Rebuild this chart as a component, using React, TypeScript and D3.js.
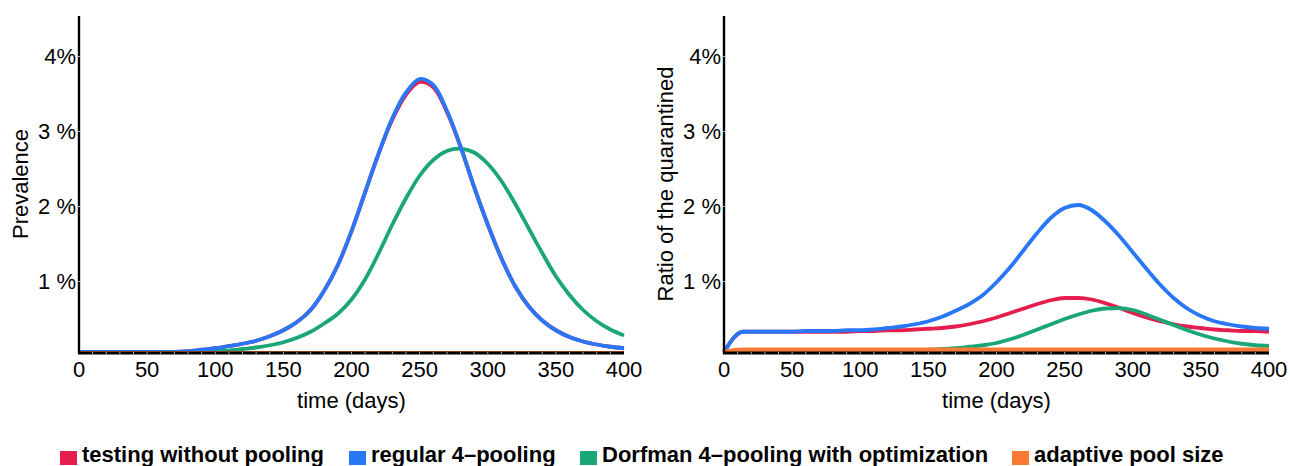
import React from 'react';
import * as d3 from 'd3';

// days on the x axis
const leftDays = d3.range(0, 401, 10);
const rightDays = [0, 14, ...d3.range(20, 401, 10)];

// prevalence (%)
const prevNoPooling = [
  0.02, 0.02, 0.02, 0.03, 0.03, 0.04, 0.05, 0.06, 0.07, 0.09,
  0.11, 0.14, 0.17, 0.21, 0.27, 0.35, 0.46, 0.62, 0.88, 1.22,
  1.67, 2.19, 2.71, 3.16, 3.49, 3.66, 3.59, 3.26, 2.8, 2.26,
  1.76, 1.31, 0.94, 0.67, 0.48, 0.35, 0.26, 0.2, 0.16, 0.13,
  0.11,
];
const prevRegular = [
  0.02, 0.02, 0.02, 0.03, 0.03, 0.04, 0.05, 0.06, 0.07, 0.09,
  0.11, 0.14, 0.17, 0.21, 0.27, 0.35, 0.46, 0.62, 0.88, 1.22,
  1.67, 2.19, 2.71, 3.18, 3.52, 3.7, 3.62, 3.28, 2.8, 2.26,
  1.76, 1.31, 0.94, 0.67, 0.48, 0.35, 0.26, 0.2, 0.16, 0.13,
  0.11,
];
const prevDorfman = [
  0.01, 0.01, 0.01, 0.02, 0.02, 0.03, 0.03, 0.04, 0.05, 0.06,
  0.07, 0.08, 0.1, 0.12, 0.15, 0.19, 0.25, 0.33, 0.44, 0.57,
  0.76, 1.03, 1.38, 1.76, 2.11, 2.41, 2.62, 2.74, 2.77, 2.72,
  2.57, 2.34, 2.04, 1.71, 1.38, 1.07, 0.82, 0.62, 0.47, 0.36,
  0.28,
];
const prevAdaptiveDays = [0, 400];
const prevAdaptive = [0, 0];

// ratio of the quarantined (%)
const quarNoPooling = [
  0, 0.33, 0.33, 0.33, 0.33, 0.33, 0.33, 0.33, 0.33, 0.33,
  0.34, 0.34, 0.35, 0.35, 0.36, 0.37, 0.38, 0.4, 0.43, 0.47,
  0.52, 0.58, 0.64, 0.7, 0.75, 0.78, 0.78, 0.76, 0.71, 0.65,
  0.58, 0.52, 0.47, 0.43, 0.4, 0.38, 0.36, 0.35, 0.34, 0.34,
  0.33,
];
const quarRegular = [
  0, 0.33, 0.33, 0.33, 0.33, 0.33, 0.34, 0.34, 0.34, 0.35,
  0.35, 0.36, 0.38, 0.4, 0.43, 0.47, 0.53, 0.61, 0.7, 0.82,
  0.99, 1.19, 1.42, 1.65, 1.85, 1.98, 2.02, 1.95, 1.8, 1.61,
  1.39, 1.17, 0.96, 0.78, 0.64, 0.54, 0.47, 0.43, 0.4, 0.38,
  0.37,
];
const quarDorfman = [
  0, 0.08, 0.08, 0.08, 0.08, 0.08, 0.08, 0.08, 0.08, 0.08,
  0.08, 0.08, 0.08, 0.08, 0.08, 0.09, 0.1, 0.11, 0.13, 0.15,
  0.18, 0.23, 0.29, 0.36, 0.43, 0.5, 0.56, 0.61, 0.64, 0.645,
  0.62, 0.56, 0.49, 0.42, 0.35, 0.29, 0.24, 0.2, 0.17, 0.15,
  0.14,
];
const quarAdaptiveDays = [0, 14, 400];
const quarAdaptive = [0, 0.09, 0.09];

const xTicks = [0, 50, 100, 150, 200, 250, 300, 350, 400];
const yTicks = [1, 2, 3, 4];
const yTickLabels = ['1 %', '2 %', '3 %', '4%'];

const legendNames = [
  'testing without pooling',
  'regular 4\u2013pooling',
  'Dorfman 4\u2013pooling with optimization',
  'adaptive pool size',
];
const colors = ['#e51e4f', '#2877f7', '#1ba676', '#f97a35'];
const legendX = [60, 349, 580, 1012];

const font = '"Liberation Sans", Arial, Helvetica, sans-serif';

type Series = { days: number[]; values: number[]; color: string; width: number };

function Panel({
  left,
  label,
  series,
  curve,
}: {
  left: number;
  label: string;
  series: Series[];
  curve: d3.CurveFactory;
}) {
  const x = d3.scaleLinear().domain([0, 400]).range([left, left + 545]);
  const y = d3.scaleLinear().domain([0.06, 4.54]).range([352, 16]).clamp(true);
  const line = d3
    .line<[number, number]>()
    .x((d) => x(d[0]))
    .y((d) => y(d[1]))
    .curve(curve);
  const minor = d3.range(10, 400, 10);

  return (
    <g>
      {series.map((s, i) => (
        <path
          key={i}
          d={line(s.days.map((d, j) => [d, s.values[j]] as [number, number])) || ''}
          fill="none"
          stroke={s.color}
          strokeWidth={s.width}
          strokeLinejoin="round"
        />
      ))}
      <line x1={x(0)} x2={x(0)} y1={y(4.54)} y2={y(0.06) + 1.5} stroke="#000" strokeWidth={2.4} />
      <line x1={x(0) - 1} x2={x(400)} y1={y(0.06) + 1} y2={y(0.06) + 1} stroke="#000" strokeWidth={3} />
      {minor.map((m) => (
        <line key={m} x1={x(m)} x2={x(m)} y1={y(0.06)} y2={y(0.06) + 2} stroke="#aaa" strokeWidth={1} />
      ))}
      {yTicks.map((t, i) => (
        <g key={t}>
          <line x1={x(0) - 1} x2={x(0) + 1} y1={y(t)} y2={y(t)} stroke="#aaa" strokeWidth={1} />
          <text
            x={x(0) - 3}
            y={y(t)}
            dy="0.36em"
            textAnchor="end"
            fontSize={22}
            fontFamily={font}
          >
            {yTickLabels[i]}
          </text>
        </g>
      ))}
      {xTicks.map((t) => (
        <text key={t} x={x(t)} y={377} textAnchor="middle" fontSize={22} fontFamily={font}>
          {t}
        </text>
      ))}
      <text x={x(200)} y={408} textAnchor="middle" fontSize={22} fontFamily={font}>
        time (days)
      </text>
      <text
        transform={`translate(${left - 51},184) rotate(-90)`}
        textAnchor="middle"
        fontSize={22}
        fontFamily={font}
      >
        {label}
      </text>
    </g>
  );
}

export default function App() {
  const leftSeries: Series[] = [
    { days: leftDays, values: prevNoPooling, color: colors[0], width: 3.8 },
    { days: leftDays, values: prevDorfman, color: colors[2], width: 3.8 },
    { days: leftDays, values: prevRegular, color: colors[1], width: 3.8 },
    { days: prevAdaptiveDays, values: prevAdaptive, color: colors[3], width: 2 },
  ];
  const rightSeries: Series[] = [
    { days: rightDays, values: quarNoPooling, color: colors[0], width: 3.8 },
    { days: rightDays, values: quarDorfman, color: colors[2], width: 3.8 },
    { days: rightDays, values: quarRegular, color: colors[1], width: 3.8 },
    { days: quarAdaptiveDays, values: quarAdaptive, color: colors[3], width: 4.5 },
  ];

  return (
    <svg
      width={1290}
      height={466}
      style={{ position: 'absolute', left: 0, top: 0, background: '#fff' }}
    >
      <Panel left={79} label="Prevalence" series={leftSeries} curve={d3.curveCatmullRom.alpha(0.5)} />
      <Panel left={724} label="Ratio of the quarantined" series={rightSeries} curve={d3.curveMonotoneX} />
      {legendNames.map((name, i) => (
        <g key={name}>
          <rect x={legendX[i]} y={451} width={17} height={14} fill={colors[i]} />
          <text
            x={legendX[i] + 22}
            y={462}
            fontSize={22}
            fontWeight="bold"
            fontFamily={font}
          >
            {name}
          </text>
        </g>
      ))}
    </svg>
  );
}
